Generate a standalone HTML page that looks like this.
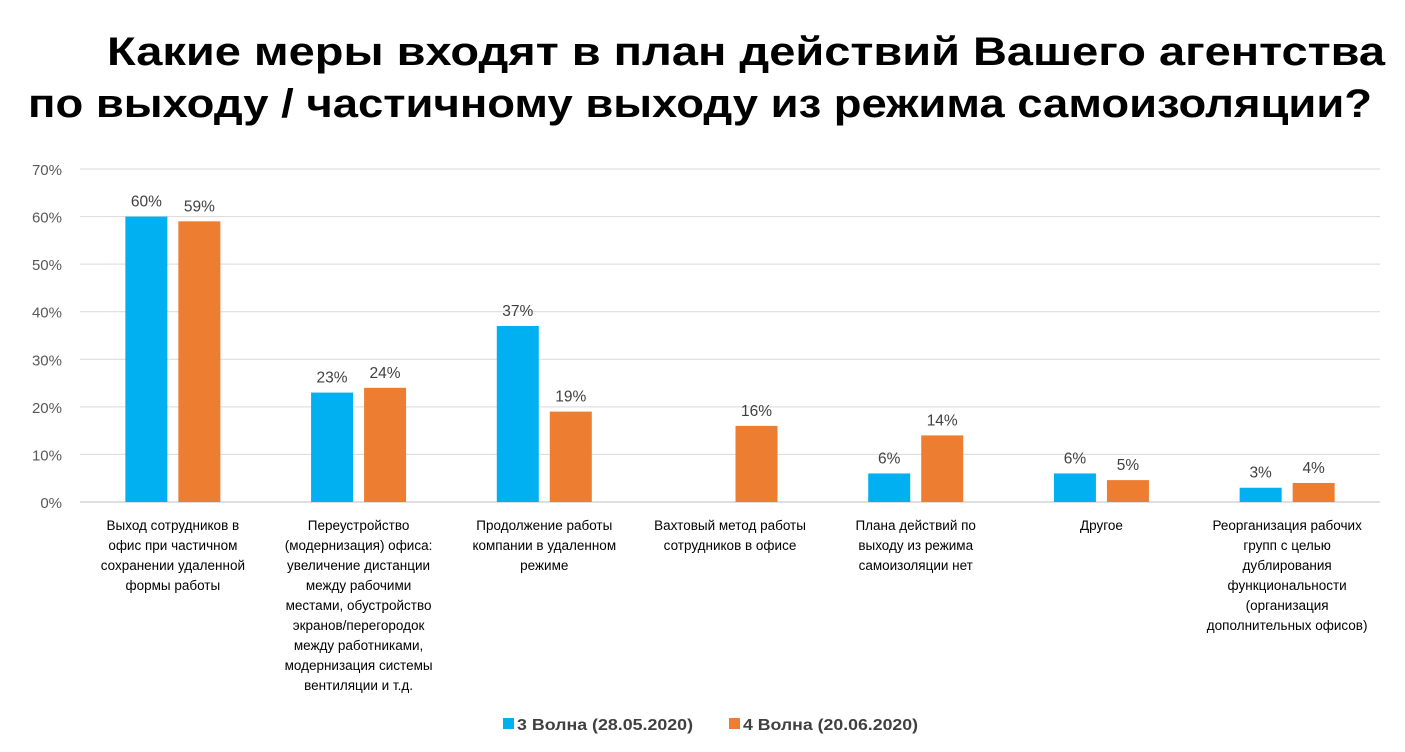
<!DOCTYPE html>
<html><head><meta charset="utf-8">
<style>
html,body{margin:0;padding:0;background:#fff;}
svg{display:block;font-family:"Liberation Sans","DejaVu Sans",sans-serif;}
</style></head>
<body>
<svg id="chart" width="1405" height="752" viewBox="0 0 1405 752" xmlns="http://www.w3.org/2000/svg">
<text x="107" y="65" font-size="40" font-weight="bold" fill="#000" textLength="1278" lengthAdjust="spacingAndGlyphs">Какие меры входят в план действий Вашего агентства</text>
<text x="28" y="117" font-size="40" font-weight="bold" fill="#000" textLength="1344" lengthAdjust="spacingAndGlyphs">по выходу / частичному выходу из режима самоизоляции?</text>
<g id="grid"></g>
<g id="yaxis"></g>
<g id="bars"></g>
<g id="xaxis"></g>
<g>
 <g>
  <rect x="503" y="718" width="11" height="11" fill="#00B0F0"/>
  <text x="517" y="730" font-size="16" font-weight="bold" fill="#404040" textLength="176" lengthAdjust="spacingAndGlyphs">3 Волна (28.05.2020)</text>
 </g>
 <g>
  <rect x="729" y="718" width="11" height="11" fill="#ED7D31"/>
  <text x="743" y="730" font-size="16" font-weight="bold" fill="#404040" textLength="175" lengthAdjust="spacingAndGlyphs">4 Волна (20.06.2020)</text>
 </g>
</g>
</svg>
<script>
const categories = [
 ["Выход сотрудников в","офис при частичном","сохранении удаленной","формы работы"],
 ["Переустройство","(модернизация) офиса:","увеличение дистанции","между рабочими","местами, обустройство","экранов/перегородок","между работниками,","модернизация системы","вентиляции и т.д."],
 ["Продолжение работы","компании в удаленном","режиме"],
 ["Вахтовый метод работы","сотрудников в офисе"],
 ["Плана действий по","выходу из режима","самоизоляции нет"],
 ["Другое"],
 ["Реорганизация рабочих","групп с целью","дублирования","функциональности","(организация","дополнительных офисов)"]
];
const wave3 = [60, 23, 37, null, 6, 6, 3];
const wave4 = [59, 24, 19, 16, 14, 4.6, 4];
const yTicks = [0, 10, 20, 30, 40, 50, 60, 70];

const NS = "http://www.w3.org/2000/svg";
const plotL = 80, plotR = 1380, y0 = 502, y70 = 169;
const yScale = v => y0 - (v / 70) * (y0 - y70);
const band = (plotR - plotL) / categories.length;
const xCenter = i => plotL + band * (i + 0.5);
const barW = 42, gap = 11;

function mk(tag, attrs, parent) {
 const el = document.createElementNS(NS, tag);
 for (const k in attrs) el.setAttribute(k, attrs[k]);
 parent.appendChild(el);
 return el;
}
const grid = document.getElementById('grid');
const yaxis = document.getElementById('yaxis');
const bars = document.getElementById('bars');
const xaxis = document.getElementById('xaxis');

yTicks.forEach(t => {
 const l = mk('line', {x1: plotL, x2: plotR, y1: yScale(t), y2: yScale(t), stroke: t === 0 ? '#BFBFBF' : '#D9D9D9', 'stroke-width': 1}, grid);
 
 
 const tx = mk('text', {x: 62, y: yScale(t) + 6, 'text-anchor': 'end', 'font-size': 15, fill: '#595959'}, yaxis);
 tx.textContent = t + '%';
 
 
});

function drawBar(v, i, series, color, dx) {
 if (v === null) return;
 const x = xCenter(i) + dx - barW / 2;
 const r = mk('rect', {x: x, y: yScale(v), width: barW, height: y0 - yScale(v), fill: color}, bars);
 
 
 const t = mk('text', {x: x + barW / 2, y: yScale(v) - 10, 'text-anchor': 'middle', 'font-size': 15.5, fill: '#404040'}, bars);
 t.textContent = Math.round(v) + '%';
 
 
}
wave3.forEach((v, i) => drawBar(v, i, 'wave3', '#00B0F0', -(barW + gap) / 2));
wave4.forEach((v, i) => drawBar(v, i, 'wave4', '#ED7D31', (barW + gap) / 2));

categories.forEach((lines, i) => {
 const t = mk('text', {'text-anchor': 'middle', 'font-size': 13.5, fill: '#000'}, xaxis);
 
 
 lines.forEach((ln, j) => {
  const s = mk('tspan', {x: xCenter(i), y: 530 + j * 20}, t);
  s.textContent = ln;
 });
});
</script>
</body></html>
